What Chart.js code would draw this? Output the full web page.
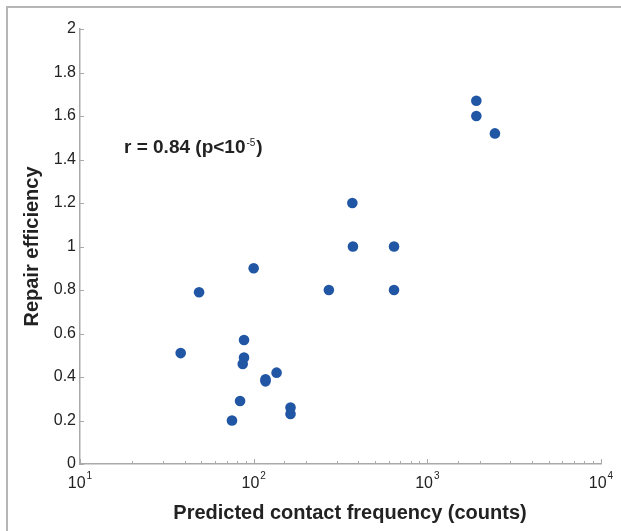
<!DOCTYPE html>
<html lang="en">
<head>
<meta charset="UTF-8">
<title>Repair efficiency vs predicted contact frequency</title>
<script src="https://cdn.jsdelivr.net/npm/chart.js"></script>
<style>
  body { margin: 0; background: #fff; }
  #wrap { width: 621px; height: 531px; }
</style>
</head>
<body>
<div id="wrap"><canvas id="chart" width="621" height="531"></canvas></div>
<script>
  // contact counts (x, log scale) and repair efficiency (y)
  const contactCounts = [38, 48.5, 100, 88, 88, 86.5, 83.5, 75, 117, 117, 135.5, 163, 163,
                         271, 370, 373, 643, 643, 1915, 1915, 2450];
  const repairEff = [0.51, 0.79, 0.90, 0.57, 0.49, 0.46, 0.29, 0.20, 0.39, 0.38, 0.42, 0.26, 0.23,
                     0.80, 1.20, 1.00, 1.00, 0.80, 1.67, 1.60, 1.52];

  const yTickValues = [0, 0.2, 0.4, 0.6, 0.8, 1, 1.2, 1.4, 1.6, 1.8, 2];
  const xTickValues = [10, 100, 1000, 10000];
  const xTickExps = ['1', '2', '3', '4'];

  const xTitle = 'Predicted contact frequency (counts)';
  const yTitle = 'Repair efficiency';
  const noteMain = 'r = 0.84 (p<10';
  const noteExp = '-5';
  const noteEnd = ')';

  const axisColor = '#a9a9a9';
  const textColor = '#222';
  const dotColor = '#2156a5';
  const fontFam = "'Liberation Sans', Arial, sans-serif";

  const decorations = {
    id: 'decorations',
    beforeDraw(chart) {
      const ctx = chart.ctx;
      ctx.save();
      ctx.fillStyle = '#b5b5b5';
      ctx.fillRect(6, 6, 615, 2);
      ctx.fillRect(6, 6, 2, 525);
      ctx.restore();
    },
    afterDraw(chart) {
      const ctx = chart.ctx;
      const xs = chart.scales.x, ys = chart.scales.y;
      const area = chart.chartArea;
      ctx.save();

      // inward tick marks
      ctx.strokeStyle = axisColor;
      ctx.lineWidth = 1;
      xs.ticks.forEach(t => {
        const lg = Math.log10(t.value);
        const major = Math.abs(lg - Math.round(lg)) < 1e-9;
        const px = Math.round(xs.getPixelForValue(t.value)) + 0.5;
        ctx.beginPath();
        ctx.moveTo(px, area.bottom);
        ctx.lineTo(px, area.bottom - (major ? 5 : 3));
        ctx.stroke();
      });
      ys.ticks.forEach(t => {
        const py = Math.round(ys.getPixelForValue(t.value)) + 0.5;
        ctx.beginPath();
        ctx.moveTo(area.left, py);
        ctx.lineTo(area.left + 4, py);
        ctx.stroke();
      });

      // x tick labels with superscript exponents
      ctx.fillStyle = textColor;
      ctx.textBaseline = 'alphabetic';
      ctx.textAlign = 'left';
      xTickValues.forEach((v, i) => {
        const px = xs.getPixelForValue(v);
        ctx.font = '16px ' + fontFam;
        const wb = ctx.measureText('10').width;
        ctx.font = '10px ' + fontFam;
        const we = ctx.measureText(xTickExps[i]).width;
        const x0 = px - (wb + we + 1) / 2;
        ctx.font = '16px ' + fontFam;
        ctx.fillText('10', x0, 488);
        ctx.font = '10px ' + fontFam;
        ctx.fillText(xTickExps[i], x0 + wb + 1, 479);
      });

      // axis titles
      ctx.font = 'bold 20px ' + fontFam;
      ctx.textAlign = 'center';
      ctx.fillText(xTitle, 350, 519);
      ctx.save();
      ctx.translate(38, (area.top + area.bottom) / 2);
      ctx.rotate(-Math.PI / 2);
      ctx.fillText(yTitle, 0, 0);
      ctx.restore();

      // correlation note
      ctx.textAlign = 'left';
      ctx.font = 'bold 19px ' + fontFam;
      let nx = 124;
      ctx.fillText(noteMain, nx, 153);
      nx += ctx.measureText(noteMain).width + 1;
      ctx.font = '10px ' + fontFam;
      ctx.fillText(noteExp, nx, 146);
      nx += ctx.measureText(noteExp).width + 1;
      ctx.font = 'bold 19px ' + fontFam;
      ctx.fillText(noteEnd, nx, 153);

      ctx.restore();
    }
  };

  const points = contactCounts.map((c, i) => ({ x: c, y: repairEff[i] }));

  new Chart(document.getElementById('chart'), {
    type: 'scatter',
    data: {
      datasets: [{
        data: points,
        backgroundColor: dotColor,
        borderWidth: 0,
        pointRadius: 5.3,
        pointHoverRadius: 5.3
      }]
    },
    options: {
      responsive: false,
      animation: false,
      devicePixelRatio: 1,
      layout: { padding: { top: 29, right: 20, left: 0, bottom: 0 } },
      plugins: { legend: { display: false }, tooltip: { enabled: false } },
      scales: {
        x: {
          type: 'logarithmic',
          min: 10,
          max: 10000,
          grid: { display: false, drawTicks: false },
          border: { display: true, color: axisColor, width: 1.5 },
          ticks: { display: false },
          afterFit: s => { s.height = 67; }
        },
        y: {
          min: 0,
          max: 2,
          grid: { display: false, drawTicks: false },
          border: { display: true, color: axisColor, width: 1.5 },
          afterBuildTicks: s => { s.ticks = yTickValues.map(v => ({ value: v })); },
          ticks: {
            padding: 4,
            color: textColor,
            font: { family: fontFam, size: 16 },
            callback: v => String(Math.round(v * 10) / 10)
          },
          afterFit: s => { s.width = 80; }
        }
      }
    },
    plugins: [decorations]
  });
</script>
</body>
</html>
